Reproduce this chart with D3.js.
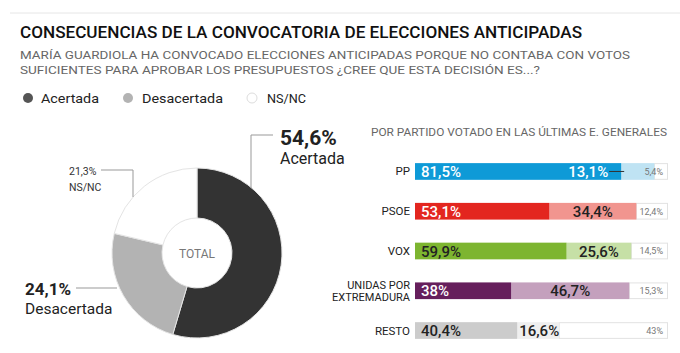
<!DOCTYPE html>
<html>
<head>
<meta charset="utf-8">
<style>
  body { margin: 0; background: #fff; }
  svg { display: block; font-family: Roboto, "Noto Sans", sans-serif; }
</style>
<title>Consecuencias de la convocatoria de elecciones anticipadas</title>
</head>
<body>
<svg width="680" height="353"></svg>
<script src="https://cdn.jsdelivr.net/npm/d3@7"></script>
<script>
// total answers
var answers = ["Acertada", "Desacertada", "NS/NC"];
var totalValues = [54.6, 24.1, 21.3];
var answerColors = ["#333333", "#b3b3b3", "#ffffff"];

// by party
var parties = ["PP", "PSOE", "VOX", "UNIDAS POR|EXTREMADURA", "RESTO"];
var acertada = [81.5, 53.1, 59.9, 38, 40.4];
var desacertada = [13.1, 34.4, 25.6, 46.7, 16.6];
var nsnc = [5.4, 12.4, 14.5, 15.3, 43];
var darkColors = ["#0e9ad7", "#e3261f", "#7db530", "#661f5c", "#cccccc"];
var lightColors = ["#bfe3f3", "#f1958f", "#c6e0a6", "#c4a0bd", "#efefef"];
var darkText = ["#fff", "#fff", "#222", "#fff", "#222"];
var midText = ["#fff", "#222", "#222", "#222", "#222"];

var fmt = function(v) { return String(v).replace(".", ","); };

var svg = d3.select("svg");

// header
svg.append("line").attr("x1", 10).attr("x2", 680).attr("y1", 13).attr("y2", 13)
   .attr("stroke", "#e6e6e6").attr("stroke-width", 1);

svg.append("text").attr("x", 20).attr("y", 38)
   .attr("font-size", 16).attr("font-weight", 500).attr("fill", "#111")
   .attr("textLength", 562).attr("lengthAdjust", "spacingAndGlyphs")
   .text("CONSECUENCIAS DE LA CONVOCATORIA DE ELECCIONES ANTICIPADAS");

svg.append("text").attr("x", 20).attr("y", 59)
   .attr("font-size", 11).attr("fill", "#666")
   .attr("textLength", 610).attr("lengthAdjust", "spacingAndGlyphs")
   .text("MARÍA GUARDIOLA HA CONVOCADO ELECCIONES ANTICIPADAS PORQUE NO CONTABA CON VOTOS");
svg.append("text").attr("x", 20).attr("y", 74)
   .attr("font-size", 11).attr("fill", "#666")
   .attr("textLength", 520).attr("lengthAdjust", "spacingAndGlyphs")
   .text("SUFICIENTES PARA APROBAR LOS PRESUPUESTOS ¿CREE QUE ESTA DECISIÓN ES...?");

// legend
var legendX = [28, 128, 252];
var legendTx = [41, 142, 267];
var legendW = [58, 81, 39];
var legend = svg.append("g");
answers.forEach(function(a, i) {
  legend.append("circle").attr("cx", legendX[i]).attr("cy", 98).attr("r", 5)
        .attr("fill", i === 0 ? "#555" : answerColors[i])
        .attr("stroke", i === 2 ? "#ddd" : "none");
  legend.append("text").attr("x", legendTx[i]).attr("y", 103)
        .attr("font-size", 13.5).attr("fill", "#222")
        .attr("textLength", legendW[i]).attr("lengthAdjust", "spacingAndGlyphs")
        .text(a);
});

// donut
var cx = 197, cy = 253, outerR = 85, innerR = 35;
var pie = d3.pie().sort(null).value(function(d) { return d; });
var arc = d3.arc().innerRadius(innerR).outerRadius(outerR);
var donut = svg.append("g").attr("transform", "translate(" + cx + "," + cy + ")");
donut.selectAll("path")
  .data(pie(totalValues))
  .enter().append("path")
  .attr("d", arc)
  .attr("fill", function(d, i) { return answerColors[i]; })
  .attr("stroke", "#e4e4e4")
  .attr("stroke-width", 1);
donut.append("text").attr("y", 5).attr("text-anchor", "middle")
     .attr("font-size", 12).attr("fill", "#777").text("TOTAL");

// donut callouts
var callout = svg.append("g").attr("stroke", "#999").attr("fill", "none");
callout.append("polyline").attr("points", "251,188 251,135 273,135");
callout.append("polyline").attr("points", "133,197 133,170 101,170");
callout.append("polyline").attr("points", "76,288 117,288");

svg.append("text").attr("x", 280).attr("y", 145)
   .attr("font-size", 21).attr("font-weight", 700).attr("fill", "#222")
   .text(fmt(totalValues[0]) + "%");
svg.append("text").attr("x", 280).attr("y", 164)
   .attr("font-size", 16).attr("fill", "#222").text(answers[0]);

svg.append("text").attr("x", 69).attr("y", 175)
   .attr("font-size", 10.5).attr("fill", "#333")
   .text(fmt(totalValues[2]) + "%");
svg.append("text").attr("x", 69).attr("y", 191)
   .attr("font-size", 10.5).attr("fill", "#333").text(answers[2]);

svg.append("text").attr("x", 25).attr("y", 295)
   .attr("font-size", 17).attr("font-weight", 700).attr("fill", "#222")
   .text(fmt(totalValues[1]) + "%");
svg.append("text").attr("x", 25).attr("y", 314)
   .attr("font-size", 15.5).attr("fill", "#222").text(answers[1]);

// bars by party
svg.append("text").attr("x", 371).attr("y", 136)
   .attr("font-size", 11).attr("fill", "#666")
   .attr("textLength", 296).attr("lengthAdjust", "spacingAndGlyphs")
   .text("POR PARTIDO VOTADO EN LAS ÚLTIMAS E. GENERALES");

var x = d3.scaleLinear().domain([0, 100]).range([415, 668]);
var y = d3.scaleBand().domain(parties).range([150, 352]).paddingInner(0.58).paddingOuter(0.33);

var rows = svg.selectAll(".row")
  .data(parties)
  .enter().append("g")
  .attr("class", "row")
  .attr("transform", function(d) { return "translate(0," + y(d) + ")"; });

rows.each(function(p, i) {
  var g = d3.select(this);
  var h = y.bandwidth();
  var a = acertada[i], b = desacertada[i], c = nsnc[i];
  var x0 = x(0), x1 = x(a), x2 = x(a + b), x3 = x(100);

  g.append("rect").attr("x", x2).attr("y", 0.5).attr("width", x3 - x2 - 0.5).attr("height", h - 1)
   .attr("fill", "#fff").attr("stroke", "#e2e2e2");
  g.append("rect").attr("x", x1).attr("y", 0).attr("width", x2 - x1).attr("height", h)
   .attr("fill", lightColors[i]);
  g.append("rect").attr("x", x0).attr("y", 0).attr("width", x1 - x0).attr("height", h)
   .attr("fill", darkColors[i]);

  // party label
  var lines = p.split("|");
  lines.forEach(function(l, k) {
    g.append("text").attr("x", 410).attr("text-anchor", "end")
     .attr("y", h / 2 + 4 + (k - (lines.length - 1) / 2) * 12.5)
     .attr("font-size", lines.length > 1 ? 11 : 11.5).attr("fill", "#222").text(l);
  });

  // value labels
  g.append("text").attr("x", x0 + 6).attr("y", h / 2 + 5.5)
   .attr("font-size", 15).attr("font-weight", 500).attr("fill", darkText[i])
   .text(fmt(a) + "%");

  var w2 = x2 - x1;
  var mid = g.append("text").attr("y", h / 2 + 5.5)
   .attr("font-size", 15).attr("font-weight", 500).attr("fill", midText[i])
   .text(fmt(b) + "%");
  if (w2 < 40) {
    mid.attr("x", x1 - 13).attr("text-anchor", "end");
    g.append("line").attr("x1", x1 - 12).attr("x2", x1 + 3)
     .attr("y1", h / 2).attr("y2", h / 2).attr("stroke", "#333");
  } else if (w2 < 50) {
    mid.attr("x", x1 + 2);
  } else {
    mid.attr("x", (x1 + x2) / 2).attr("text-anchor", "middle");
  }

  g.append("text").attr("x", x3 - 5).attr("y", h / 2 + 3.5).attr("text-anchor", "end")
   .attr("font-size", 9).attr("fill", "#777").text(fmt(c) + "%");
});
</script>
</body>
</html>
